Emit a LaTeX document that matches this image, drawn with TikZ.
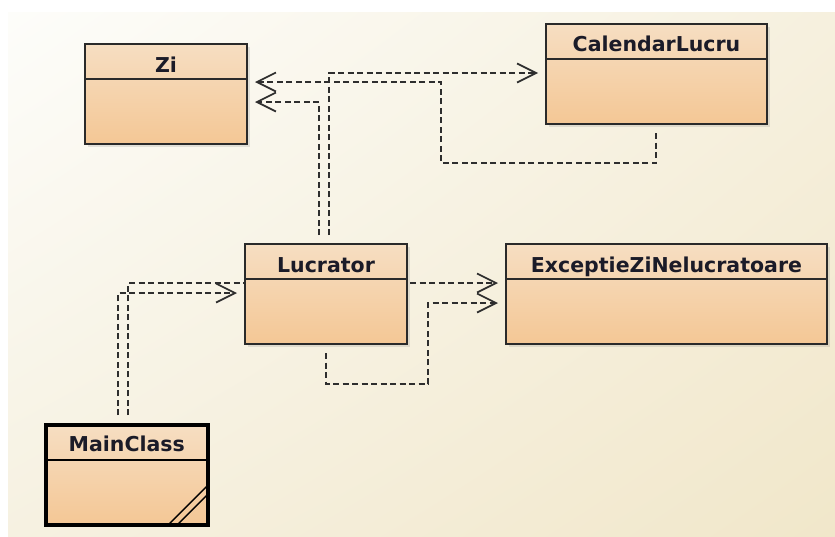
\documentclass[tikz,border=0pt]{standalone}
\usepackage{fontspec}
\newfontfamily\umlfont{DejaVu Sans}
\usetikzlibrary{arrows.meta,shadows,shadings,calc}

\definecolor{bgUL}{HTML}{FDFDFA}
\definecolor{bgUR}{HTML}{F6F0DE}
\definecolor{bgLL}{HTML}{F6F1E1}
\definecolor{bgLR}{HTML}{F1E7CA}
\definecolor{boxline}{HTML}{2A2A2A}
\definecolor{fillTop}{HTML}{F6DEC2}
\definecolor{fillBot}{HTML}{F4C795}
\definecolor{depline}{HTML}{2E2E2E}
\definecolor{ink}{HTML}{1B1B28}

\begin{document}
\begin{tikzpicture}[x=1pt,y=-1pt,
  classbox/.style={draw=boxline, line width=2pt, top color=fillTop, bottom color=fillBot,
    drop shadow={shadow xshift=2.5pt, shadow yshift=-2.5pt, opacity=0.2},
    anchor=north west, inner sep=0pt, minimum height=100pt},
  activebox/.style={classbox, draw=black, line width=3.6pt},
  classtitle/.style={anchor=base, inner sep=0pt, text=ink,
    font=\umlfont\bfseries\fontsize{20.5}{24}\selectfont},
  sepline/.style={draw=boxline, line width=2pt},
  dep/.style={draw=depline, line width=1.7pt, dash pattern=on 6pt off 3.5pt},
  deparrow/.style={dep, -{Straight Barb[length=19pt, width=19pt, line width=1.7pt]}},
]
% canvas
\fill[white] (0,0) rectangle (835,536);
\shade[upper left=bgUL, upper right=bgUR, lower left=bgLL, lower right=bgLR]
  (8,12) rectangle (835,536);
\useasboundingbox (0,0) rectangle (835,536);

% classes
\node[classbox, minimum width=162pt] (zi)  at (84,43)  {};
\node[classbox, minimum width=221pt] (cal) at (545,23) {};
\node[classbox, minimum width=162pt] (luc) at (244,243) {};
\node[classbox, minimum width=321pt] (exc) at (505,243) {};
\node[activebox, minimum width=162pt] (mc) at (44,423) {};

% compartment separators
\draw[sepline] ($(zi.north west)+(0,36)$)  -- ($(zi.north east)+(0,36)$);
\draw[sepline] ($(cal.north west)+(0,36)$) -- ($(cal.north east)+(0,36)$);
\draw[sepline] ($(luc.north west)+(0,36)$) -- ($(luc.north east)+(0,36)$);
\draw[sepline] ($(exc.north west)+(0,36)$) -- ($(exc.north east)+(0,36)$);
\draw[draw=black, line width=2.6pt] ($(mc.north west)+(0,37)$) -- ($(mc.north east)+(0,37)$);

% class names
\node[classtitle] (zi-t)  at ($(zi.north)+(0,29)$)  {Zi};
\node[classtitle] (cal-t) at ($(cal.north)+(0,28.5)$) {CalendarLucru};
\node[classtitle] (luc-t) at ($(luc.north)+(0,29)$) {Lucrator};
\node[classtitle] (exc-t) at ($(exc.north)+(0,29)$) {ExceptieZiNelucratoare};
\node[classtitle] (mc-t)  at ($(mc.north)+(0,28.5)$)  {MainClass};

% active-class marks in the corner of MainClass
\draw[black, line width=1.4pt] ($(mc.south east)+(-42,-1)$) -- ($(mc.south east)+(-3,-40)$);
\draw[black, line width=1.4pt] ($(mc.south east)+(-33,-1)$) -- ($(mc.south east)+(-3,-31)$);

% dependencies
\draw[deparrow] ($(luc.north west)+(75,-8)$) |- ($(zi.north east)+(7,59)$);
\draw[deparrow] ($(luc.north west)+(85,-8)$) |- ($(cal.north west)+(-7,50)$);
\draw[deparrow] ($(cal.south west)+(111,8)$) |- ($(zi.south east)+(193,18)$)
                |- ($(zi.north east)+(7,39)$);
\draw[deparrow] ($(mc.north west)+(74,-8)$) |- ($(luc.north west)+(-7,50)$);
\draw[dep]      ($(mc.north west)+(84,-8)$) |- ($(luc.north west)+(0,40)$);
\draw[deparrow] ($(luc.north east)+(2,40)$) -- ($(exc.north west)+(-7,40)$);
\draw[deparrow] ($(luc.south west)+(82,8)$) |- ($(luc.south east)+(20,39)$)
                |- ($(exc.north west)+(-7,60)$);
\end{tikzpicture}
\end{document}
